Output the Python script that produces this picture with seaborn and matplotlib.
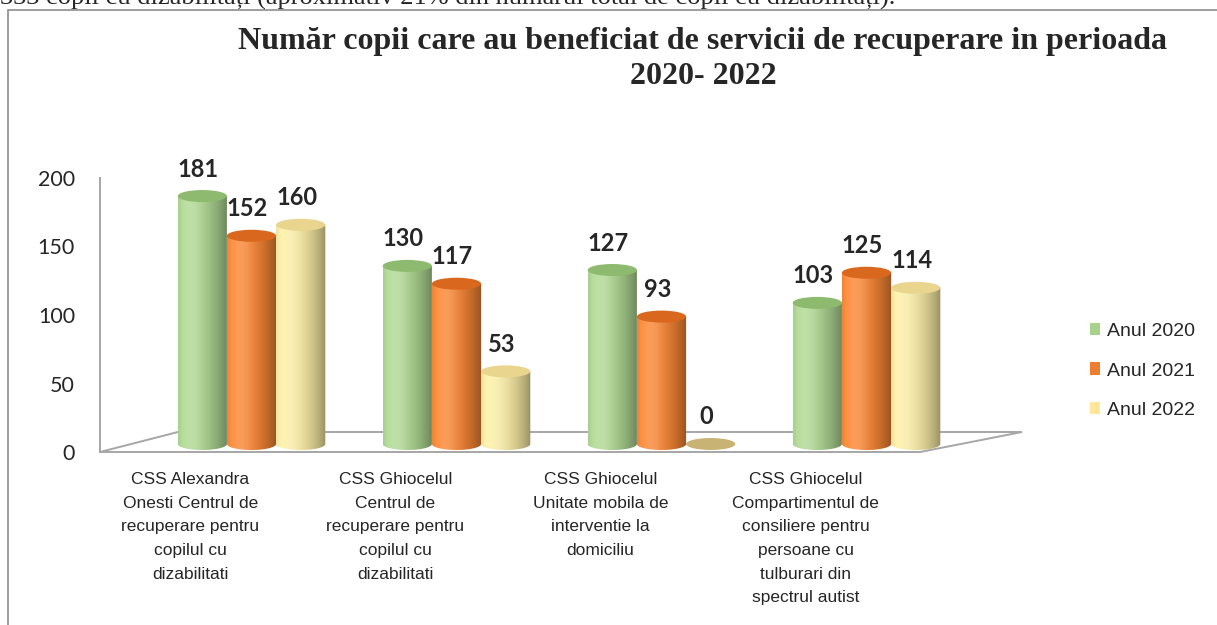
import numpy as np
import pandas as pd
import matplotlib
matplotlib.use('Agg')
import matplotlib.pyplot as plt
import matplotlib.transforms as mtransforms
import matplotlib.colors as mcolors
from matplotlib.patches import Ellipse, Polygon, PathPatch, Rectangle, Patch
from matplotlib.path import Path
import seaborn as sns

# ── data ───────────────────────────────────────────────────────────
categories = [
    'CSS Alexandra\nOnesti Centrul de\nrecuperare pentru\ncopilul cu\ndizabilitati',
    'CSS Ghiocelul\nCentrul de\nrecuperare pentru\ncopilul cu\ndizabilitati',
    'CSS Ghiocelul\nUnitate mobila de\ninterventie la\ndomiciliu',
    'CSS Ghiocelul\nCompartimentul de\nconsiliere pentru\npersoane cu\ntulburari din\nspectrul autist',
]
years = ['Anul 2020', 'Anul 2021', 'Anul 2022']
vals_2020 = [181, 130, 127, 103]
vals_2021 = [152, 117, 93, 125]
vals_2022 = [160, 53, 0, 114]
yticks = [0, 50, 100, 150, 200]

title = ('Număr copii care au beneficiat de servicii de recuperare in perioada\n'
         '2020- 2022')
top_text = ('333 copii cu dizabilități (aproximativ 21% din numărul total '
            'de copii cu dizabilități).')

# ── style ──────────────────────────────────────────────────────────
legend_colors = ['#A9D18E', '#ED7D31', '#FFE699']
body_colors = ['#B3DC96', '#FF8A36', '#FFF2A8']
cap_colors = ['#8DBA6E', '#D9671E', '#E9D58E']
zero_color = '#C9B374'
grid_grey = '#A6A6A6'

sns.set_style('white')
plt.rcParams['font.family'] = ['Liberation Sans', 'DejaVu Sans']

W, H = 1217, 625
unit_px = 205           # pixels per category slot
extra = 120 / unit_px   # room on the right for the depth of the last bars
fig = plt.figure(figsize=(W / 100, H / 100), dpi=100)
ax = fig.add_axes([100 / W, 1 - 452 / H, (820 + 120) / W, 274 / H])

df = pd.DataFrame({
    'centru': categories * 3,
    'an': np.repeat(years, len(categories)),
    'copii': vals_2020 + vals_2021 + vals_2022,
})
sns.barplot(data=df, x='centru', y='copii', hue='an', hue_order=years,
            palette=legend_colors, width=0.72, gap=0, saturation=1,
            errorbar=None, legend=False, ax=ax)

ax.set_xlim(-0.5, 3.5 + extra)
ax.set_ylim(0, 200)

# pseudo-3d depth: bars sit a bit behind/right of the front edge
depth = mtransforms.ScaledTranslation(49 / 100, 8 / 100, fig.dpi_scale_trans)
bar_trans = ax.transData + depth
px_per_unit_y = 274 / 200
ell_h = 12 / px_per_unit_y


def cylinder_gradient(color, n=64):
    c = np.array(mcolors.to_rgb(color))
    t = np.linspace(0, 1, n)[:, None]
    light = 0.18 * np.exp(-((t - 0.3) / 0.22) ** 2)
    dark = 0.40 * t ** 2.4 + 0.06 * np.exp(-(t / 0.06) ** 2)
    out = c * (1 - dark) + (1 - c) * light
    return np.clip(out, 0, 1)[None, :, :]


for i, cont in enumerate(ax.containers):
    grad = cylinder_gradient(body_colors[i])
    for bar in cont:
        x0, w, h = bar.get_x(), bar.get_width(), bar.get_height()
        bar.set_visible(False)
        cx = x0 + w / 2
        if h > 0:
            theta = np.linspace(np.pi, 2 * np.pi, 40)
            verts = np.column_stack([cx + w / 2 * np.cos(theta),
                                     ell_h / 2 * np.sin(theta)])
            verts = np.vstack([verts, [[x0 + w, h], [x0, h], verts[0]]])
            clip = PathPatch(Path(verts), transform=bar_trans,
                             facecolor='none', edgecolor='none')
            img = ax.imshow(grad, extent=[x0, x0 + w, -ell_h / 2, h],
                            aspect='auto', interpolation='bilinear',
                            transform=bar_trans, zorder=2)
            img.set_clip_path(clip)
            cap = cap_colors[i]
        else:
            cap = zero_color
        ax.add_patch(Ellipse((cx, h), w, ell_h, facecolor=cap,
                             edgecolor='none', transform=bar_trans,
                             clip_on=False, zorder=3))
        ax.annotate(f'{int(h)}', xy=(cx, h), xycoords=bar_trans,
                    xytext=(-4, 27), textcoords='offset pixels',
                    ha='center', va='center', fontsize=17,
                    fontweight='bold', family=['Lato', 'DejaVu Sans'],
                    annotation_clip=False, zorder=4)

ax.set_xlim(-0.5, 3.5 + extra)
ax.set_ylim(0, 200)

# floor of the 3d box
back_dy = 14.6
ax.add_patch(Polygon([(-0.5, 0), (3.5, 0),
                      (3.5 + 102 / unit_px, back_dy),
                      (-0.5 + 78 / unit_px, back_dy)],
                     closed=True, facecolor='none', edgecolor=grid_grey,
                     lw=1.4, clip_on=False, zorder=1))

# axes cosmetics
for s in ['top', 'right', 'bottom']:
    ax.spines[s].set_visible(False)
ax.spines['left'].set_color(grid_grey)
ax.spines['left'].set_linewidth(1.4)
ax.set_yticks(yticks)
ax.set_yticklabels([str(v) for v in yticks], fontsize=15.5,
                   family=['Lato', 'DejaVu Sans'])
ax.tick_params(axis='y', length=0, pad=18)
ax.set_xticks([])
ax.set_xlabel('')
ax.set_ylabel('')
ax.patch.set_alpha(0)

for i, cat in enumerate(categories):
    ax.annotate(cat, xy=(i, 0), xycoords=('data', 'axes fraction'),
                xytext=(-12, -20), textcoords='offset pixels',
                ha='center', va='top', fontsize=12.5, linespacing=1.72,
                annotation_clip=False)

# legend
handles = [Patch(facecolor=c, edgecolor='none') for c in legend_colors]
fig.legend(handles, years, loc='center left',
           bbox_to_anchor=(1072 / W, 1 - 371 / H), frameon=False,
           fontsize=14, handlelength=0.55, handleheight=0.6,
           handletextpad=0.35, labelspacing=1.15)

# title and the cut-off line of page text above the chart frame
fig.text(703 / W, 1 - 59 / H, title, ha='center', va='center',
         fontsize=23, fontweight='bold', family='Liberation Serif',
         linespacing=1.25)
fig.text(0, 1 - 5 / H, top_text, ha='left', va='baseline', fontsize=19,
         family='Liberation Serif')

# chart frame
fig.add_artist(Rectangle((8 / W, -0.05), 1.2, 1 + 0.05 - 10 / H,
                         transform=fig.transFigure, facecolor='none',
                         edgecolor='#8C8C8C', lw=1.2))

fig.savefig('out.png', dpi=100)
